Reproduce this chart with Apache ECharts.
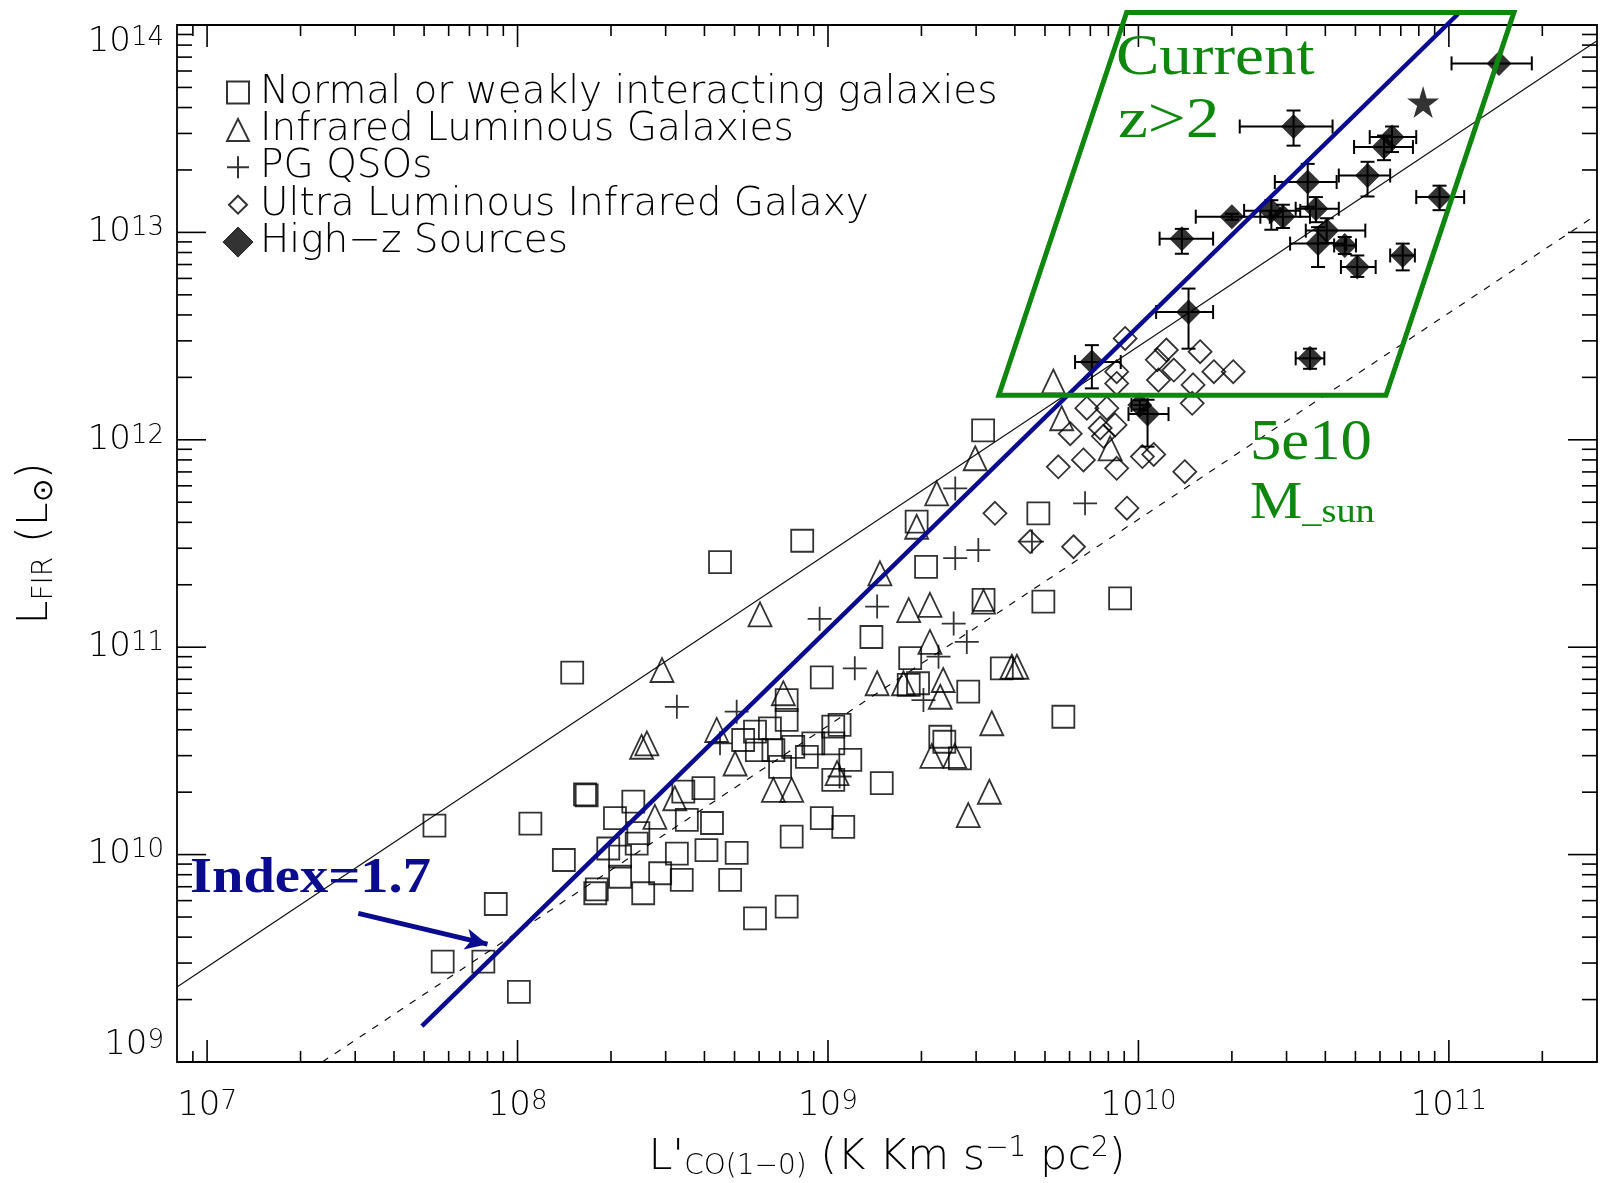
<!DOCTYPE html>
<html><head><meta charset="utf-8">
<script src="https://cdn.jsdelivr.net/npm/echarts@6/dist/echarts.min.js"></script>
<style>html,body{margin:0;padding:0;background:#fff}#chart{width:1606px;height:1183px}</style>
</head><body><div id="chart"></div>
<script>
// ---------------- data ----------------
const xTickLabels = [1e7, 1e8, 1e9, 1e10, 1e11];
const yTickLabels = [1e9, 1e10, 1e11, 1e12, 1e13, 1e14];
const legendNames = ['Normal or weakly interacting galaxies', 'Infrared Luminous Galaxies', 'PG QSOs', 'Ultra Luminous Infrared Galaxy', 'High\u2212z Sources'];

const normalX = [5.40e7,5.74e7,7.76e7,8.51e7,1.01e8,1.10e8,1.50e8,1.41e8,1.65e8,1.67e8,1.78e8,1.80e8,2.36e8,2.06e8,1.96e8,2.14e8,2.54e8,2.45e8,2.14e8,3.97e8,3.42e8,4.23e8,3.51e8,2.42e8,4.06e8,5.08e8,3.26e8,3.38e8,2.88e8,4.84e8,5.82e8,7.36e8,7.64e8,9.55e8,1.12e9,1.49e9,1.04e9,1.18e9,1.09e9,5.82e8,6.50e8,7.36e8,7.36e8,7.73e8,6.67e8,5.90e8,8.97e8,7.01e8,8.55e8,1.04e9,1.04e9,5.33e8,9.55e8,1.93e9,2.07e9,1.38e9,1.84e9,1.82e9,1.95e9,2.83e9,4.76e9,3.17e9,4.94e9,8.73e9,3.63e9,5.73e9,2.30e9,2.37e9,2.66e9,3.16e9,8.26e8,4.49e8];
const normalY = [1.38e10,3.05e9,3.05e9,5.78e9,2.18e9,1.41e10,7.54e10,9.42e9,1.95e10,1.93e10,6.51e9,6.8e9,1.80e10,1.50e10,1.07e10,7.82e9,6.51e9,1.27e10,9.77e9,2.09e10,2.01e10,1.42e10,1.47e10,1.13e10,1.05e10,1.02e10,1.01e10,7.55e9,8.13e9,7.55e9,4.93e9,5.61e9,1.22e10,1.50e10,1.36e10,2.21e10,2.29e10,2.86e10,4.22e10,3.92e10,4.06e10,4.46e10,5.56e10,3.31e10,3.19e10,3.19e10,3.44e10,2.65e10,2.96e10,4.14e10,3.44e10,3.57e10,7.16e10,4.03e11,2.44e11,1.12e11,8.85e10,6.58e10,6.70e10,6.10e10,4.42e11,1.69e11,1.66e11,1.72e11,7.91e10,4.62e10,3.70e10,3.50e10,2.91e10,1.11e12,3.26e11,2.57e11];

const ilgX = [2.92e8,2.51e8,2.61e8,4.38e8,5.02e8,2.77e8,3.21e8,7.18e8,6.67e8,7.64e8,1.44e9,1.07e9,2.98e9,2.24e9,1.93e9,1.47e9,1.82e9,2.13e9,3.17e9,2.13e9,1.75e9,2.35e9,3.91e9,4.06e9,3.37e9,2.30e9,5.32e9,5.66e9,8.11e9,6.04e8,2.16e9,2.56e9,2.83e9,3.31e9];
const ilgY = [7.76e10,3.31e10,3.44e10,3.99e10,2.75e10,1.52e10,1.87e10,6.0e10,2.05e10,2.05e10,6.70e10,2.47e10,8.15e11,5.52e11,3.81e11,2.27e11,1.51e11,1.60e11,1.66e11,1.06e11,6.70e10,6.95e10,8.05e10,8.05e10,4.30e10,5.77e10,1.91e12,1.27e12,9.10e11,1.44e11,2.99e10,2.99e10,1.55e10,2.01e10];

const qsoX = [3.26e8,5.08e8,4.49e8,1.22e9,1.09e9,2.57e9,2.57e9,3.05e9,1.44e9,2.54e9,2.80e9,2.27e9,6.73e9,2.03e9,4.54e9,9.4e8];
const qsoY = [5.16e10,4.89e10,3.44e10,7.91e10,2.38e10,5.83e11,2.69e11,2.94e11,1.57e11,1.30e11,1.06e11,9.0e10,4.94e11,5.56e10,3.23e11,1.37e11];

const ulirgX = [3.45e9,9.18e9,4.48e9,6.18e9,5.52e9,6.65e9,8.51e9,1.03e10,1.12e10,9.06e9,1.23e10,1.58e10,1.15e10,1.30e10,1.75e10,2.02e10,8.51e9,8.51e9,1.16e10,1.50e10,1.49e10,6.82e9,7.91e9,6.03e9,7.53e9,8.41e9,7.71e9,1.41e10];
const ulirgY = [4.42e11,4.68e11,3.23e11,3.05e11,7.41e11,8.0e11,7.29e11,8.3e11,8.5e11,3.08e12,2.71e12,2.66e12,2.43e12,2.17e12,2.13e12,2.13e12,2.13e12,1.87e12,1.94e12,1.84e12,1.50e12,1.42e12,1.42e12,1.07e12,1.14e12,1.18e12,1.04e12,7.02e11];

const hzX   = [1.45e11,3.16e10,6.56e10,6.18e10,5.47e10,9.33e10,3.51e10,2.0e10,2.68e10,2.92e10,3.73e10,4.04e10,3.79e10,4.62e10,1.38e10,7.10e10,5.07e10,1.45e10,7.08e9,3.57e10,1.07e10,1.01e10];
const hzY   = [6.53e13,3.24e13,2.88e13,2.58e13,1.88e13,1.48e13,1.75e13,1.19e13,1.27e13,1.19e13,1.30e13,1.02e13,8.83e12,8.65e12,9.33e12,7.74e12,6.81e12,4.13e12,2.37e12,2.47e12,1.33e12,1.47e12];
const hzXLo = [1.02e11,2.12e10,5.56e10,4.95e10,4.42e10,7.85e10,2.75e10,1.53e10,2.19e10,2.47e10,3.21e10,3.46e10,3.08e10,4.27e10,1.17e10,6.47e10,4.49e10,1.14e10,6.25e9,3.21e10,9.29e9,9.5e9];
const hzXHi = [1.85e11,4.22e10,7.85e10,7.66e10,6.47e10,1.12e11,4.35e10,2.65e10,3.32e10,3.57e10,4.42e10,5.38e10,4.67e10,5.02e10,1.74e10,7.77e10,5.81e10,1.74e10,8.77e9,3.97e10,1.25e10,1.07e10];
const hzYLo = [6.53e13,2.62e13,2.44e13,2.23e13,1.49e13,1.28e13,1.33e13,1.15e13,1.03e13,1.05e13,1.12e13,8.9e12,6.81e12,7.87e12,7.89e12,6.56e12,6.10e12,2.75e12,1.77e12,2.20e12,9.27e11,1.40e12];
const hzYHi = [6.53e13,3.87e13,3.24e13,2.93e13,2.19e13,1.68e13,2.14e13,1.23e13,1.43e13,1.36e13,1.48e13,1.17e13,1.06e13,9.5e12,1.04e13,8.83e12,7.74e12,5.36e12,2.86e12,2.75e12,1.56e12,1.55e12];

const starX = [8.26e10];
const starY = [4.25e13];

const fitSolidX = [8e6, 3e11];
const fitSolidY = [2.3e9, 8.4e13];
const fitDashX = [2.35e7, 3e11];
const fitDashY = [1e9, 1.22e13];
const indexLineX = [4.92e7, 1.07e11];
const indexLineY = [1.49e9, 1.13e14];
const arrowX = [3.07e7, 8.0e7];
const arrowY = [5.21e9, 3.70e9];
const boxX = [9.16e9, 1.62e11, 6.27e10, 3.55e9, 9.16e9, 1.62e11];
const boxY = [1.15e14, 1.15e14, 1.64e12, 1.64e12, 1.15e14, 1.15e14];

// ---------------- chart ----------------
const xMin = 8e6, xMax = 3e11, yMin = 1e9, yMax = 1e14;
const FONT = 'DejaVu Sans';
const FW = 200;
const TXT = '#000';
const BLUE = '#0b0b8f';
const GREEN = '#0f870f';
const pairs = (xs, ys) => xs.map((x, i) => [x, ys[i]]);

function tickList(lo, hi) {
  const out = [];
  for (let e = 6; e <= 14; e++) {
    for (let m = 1; m <= 9; m++) {
      const v = m * Math.pow(10, e);
      if (v > lo * 1.0001 && v < hi * 0.9999) out.push({ v: v, major: m === 1 });
    }
  }
  return out;
}
const xTicks = tickList(xMin, xMax);
const yTicks = tickList(yMin, yMax);

function tickSeries(side) {
  const horiz = side === 'bottom' || side === 'top';
  const vals = horiz ? xTicks : yTicks;
  return {
    type: 'custom', coordinateSystem: 'cartesian2d', silent: true, z: 6, clip: false,
    data: vals.map(t => side === 'bottom' ? [t.v, yMin] : side === 'top' ? [t.v, yMax] : side === 'left' ? [xMin, t.v] : [xMax, t.v]),
    renderItem: (params, api) => {
      const t = vals[params.dataIndex];
      const p = api.coord([api.value(0), api.value(1)]);
      const len = horiz ? (t.major ? 22 : 11) : (t.major ? 29 : 15);
      let x2 = p[0], y2 = p[1];
      if (side === 'bottom') y2 -= len; else if (side === 'top') y2 += len;
      else if (side === 'left') x2 += len; else x2 -= len;
      return { type: 'line', shape: { x1: p[0], y1: p[1], x2: x2, y2: y2 }, style: { stroke: '#000', lineWidth: 1.6 } };
    }
  };
}

function expLabel(v) {
  const l = Math.log10(v);
  const e = Math.round(l);
  if (Math.abs(l - e) > 1e-6) return '';
  return '{b|10}{s|' + e + '}';
}
function yLabel(v) {
  const s = expLabel(v);
  if (s && Math.abs(v - yMin) / yMin < 1e-6) return s + '\n{g|}';
  return s;
}
const labelRich = {
  b: { fontFamily: FONT, fontWeight: FW, fontSize: 34, color: TXT, lineHeight: 34 },
  s: { fontFamily: FONT, fontWeight: FW, fontSize: 26, color: TXT, lineHeight: 14, verticalAlign: 'top' },
  g: { fontSize: 10, lineHeight: 34 }
};
const nameRich = {
  b: { fontFamily: FONT, fontWeight: FW, fontSize: 43, color: TXT, lineHeight: 46 },
  sub: { fontFamily: FONT, fontWeight: FW, fontSize: 28, color: TXT, lineHeight: 22, verticalAlign: 'bottom' },
  sup: { fontFamily: FONT, fontWeight: FW, fontSize: 28, color: TXT, lineHeight: 28, verticalAlign: 'top' }
};

const openStyle = { color: 'transparent', borderColor: '#000', borderWidth: 1.8 };
const plusPath = 'path://M0,10L20,10M10,0L10,20';
const starPath = 'path://M50,0L61,35L98,35L68,57L79,91L50,70L21,91L32,57L2,35L39,35Z';

const option = {
  animation: false,
  backgroundColor: '#fff',
  grid: { left: 177, right: 9, top: 25, bottom: 121, containLabel: false, outerBoundsMode: 'none',
          show: true, borderColor: '#000', borderWidth: 1.8, backgroundColor: 'transparent' },
  xAxis: {
    type: 'log', logBase: 10, min: xMin, max: xMax,
    axisLine: { show: false }, axisTick: { show: false }, splitLine: { show: false }, minorTick: { show: false },
    axisLabel: { margin: 27, formatter: expLabel, rich: labelRich, showMinLabel: false, showMaxLabel: false },
    name: "{b|L'}{sub|CO(1\u22120)}{b| (K Km s}{sup|\u22121}{b| pc}{sup|2}{b|)}",
    nameLocation: 'middle', nameGap: 73,
    nameTextStyle: { rich: nameRich }
  },
  yAxis: {
    type: 'log', logBase: 10, min: yMin, max: yMax,
    axisLine: { show: false }, axisTick: { show: false }, splitLine: { show: false }, minorTick: { show: false },
    axisLabel: { margin: 13, formatter: yLabel, rich: labelRich, verticalAlignMaxLabel: 'top' },
    name: '{b|L}{sub|FIR}{b| (L}{sub|\u2299}{b|)}',
    nameLocation: 'middle', nameGap: 118, nameRotate: 90,
    nameTextStyle: { rich: nameRich }
  },
  legend: {
    orient: 'vertical', left: 217, top: 68, itemWidth: 34, itemHeight: 30, itemGap: -1.6,
    selectedMode: false, symbolKeepAspect: true,
    textStyle: { fontFamily: FONT, fontWeight: FW, fontSize: 39, color: TXT, lineHeight: 30 },
    data: [
      { name: legendNames[0], icon: 'path://M0,0M30,30M4,4L26,4L26,26L4,26Z', itemStyle: { color: 'transparent', borderColor: '#000', borderWidth: 2 } },
      { name: legendNames[1], icon: 'path://M0,0M30,30M15,4L26,26L4,26Z', itemStyle: { color: 'transparent', borderColor: '#000', borderWidth: 2 } },
      { name: legendNames[2], icon: 'path://M0,0M30,30M4,15L26,15M15,4L15,26', itemStyle: { color: 'transparent', borderColor: '#000', borderWidth: 2 } },
      { name: legendNames[3], icon: 'path://M0,0M30,30M15,6L24,15L15,24L6,15Z', itemStyle: { color: 'transparent', borderColor: '#000', borderWidth: 2 } },
      { name: legendNames[4], icon: 'path://M0,0M30,30M15,0L30,15L15,30L0,15Z', itemStyle: { color: '#000', borderColor: '#000', borderWidth: 1 } }
    ]
  },
  series: [
    { name: 'fit-solid', type: 'line', data: pairs(fitSolidX, fitSolidY), symbol: 'none', silent: true, z: 1,
      lineStyle: { color: '#111', width: 1.2 } },
    { name: 'fit-dash', type: 'line', data: pairs(fitDashX, fitDashY), symbol: 'none', silent: true, z: 1,
      lineStyle: { color: '#111', width: 1.2, type: [7, 8] } },
    { name: legendNames[0], type: 'scatter', data: pairs(normalX, normalY), symbol: 'rect', symbolSize: 22, itemStyle: openStyle, z: 3 },
    { name: legendNames[1], type: 'scatter', data: pairs(ilgX, ilgY), symbol: 'triangle', symbolSize: [23, 24], itemStyle: openStyle, z: 3 },
    { name: legendNames[2], type: 'scatter', data: pairs(qsoX, qsoY), symbol: plusPath, symbolSize: 24, itemStyle: openStyle, z: 3 },
    { name: legendNames[3], type: 'scatter', data: pairs(ulirgX, ulirgY), symbol: 'diamond', symbolSize: 23, itemStyle: openStyle, z: 3 },
    { name: 'hz-errors', type: 'custom', silent: true, z: 4,
      data: hzX.map((x, i) => [x, hzY[i], hzXLo[i], hzXHi[i], hzYLo[i], hzYHi[i]]),
      encode: { x: 0, y: 1 },
      renderItem: (params, api) => {
        const x = api.value(0), y = api.value(1);
        const xl = api.value(2), xh = api.value(3), yl = api.value(4), yh = api.value(5);
        const st = { stroke: '#000', lineWidth: 2 };
        const cap = 7;
        const ch = [];
        if (xl !== xh) {
          const a = api.coord([xl, y]), b = api.coord([xh, y]);
          ch.push({ type: 'line', shape: { x1: a[0], y1: a[1], x2: b[0], y2: b[1] }, style: st });
          ch.push({ type: 'line', shape: { x1: a[0], y1: a[1] - cap, x2: a[0], y2: a[1] + cap }, style: st });
          ch.push({ type: 'line', shape: { x1: b[0], y1: b[1] - cap, x2: b[0], y2: b[1] + cap }, style: st });
        }
        if (yl !== yh) {
          const a = api.coord([x, yl]), b = api.coord([x, yh]);
          ch.push({ type: 'line', shape: { x1: a[0], y1: a[1], x2: b[0], y2: b[1] }, style: st });
          ch.push({ type: 'line', shape: { x1: a[0] - cap, y1: a[1], x2: a[0] + cap, y2: a[1] }, style: st });
          ch.push({ type: 'line', shape: { x1: b[0] - cap, y1: b[1], x2: b[0] + cap, y2: b[1] }, style: st });
        }
        return { type: 'group', children: ch };
      }
    },
    { name: legendNames[4], type: 'scatter', data: pairs(hzX, hzY), symbol: 'diamond', symbolSize: 25, itemStyle: { color: '#000' }, z: 5 },
    { name: 'star', type: 'scatter', data: pairs(starX, starY), symbol: starPath, symbolSize: 32, itemStyle: { color: '#000' }, z: 5 },
    { name: 'index-line', type: 'line', data: pairs(indexLineX, indexLineY), symbol: 'none', silent: true, clip: false, z: 10,
      lineStyle: { color: BLUE, width: 4.5 },
      markLine: {
        silent: true, symbol: ['none', 'arrow'], symbolSize: [16, 22], animation: false,
        label: { show: false },
        lineStyle: { color: BLUE, width: 5, type: 'solid' },
        data: [[{ coord: [arrowX[0], arrowY[0]] }, { coord: [arrowX[1], arrowY[1]] }]]
      }
    },
    { name: 'box', type: 'line', data: pairs(boxX, boxY), symbol: 'none', silent: true, clip: false, z: 10,
      lineStyle: { color: GREEN, width: 5, join: 'miter' } },
    tickSeries('bottom'), tickSeries('top'), tickSeries('left'), tickSeries('right')
  ],
  graphic: [
    { type: 'text', x: 190, y: 879, scaleX: 1.13, z: 100, style: { text: 'Index=1.7', font: 'bold 50px "Liberation Serif"', fill: BLUE, verticalAlign: 'middle' } },
    { type: 'text', x: 1116, y: 59, scaleX: 1.16, z: 100, style: { text: 'Current', font: '56px "Liberation Serif"', fill: GREEN, verticalAlign: 'middle' } },
    { type: 'text', x: 1118, y: 122, scaleX: 1.2, z: 100, style: { text: 'z>2', font: '56px "Liberation Serif"', fill: GREEN, verticalAlign: 'middle' } },
    { type: 'text', x: 1250, y: 444, scaleX: 1.12, z: 100, style: { text: '5e10', font: '56px "Liberation Serif"', fill: GREEN, verticalAlign: 'middle' } },
    { type: 'text', x: 1250, y: 504, scaleX: 1.13, z: 100, style: {
        text: '{a|M}{b|_sun}', verticalAlign: 'middle', fill: GREEN,
        rich: { a: { fontFamily: 'Liberation Serif', fontSize: 52, lineHeight: 52, verticalAlign: 'bottom', fill: GREEN },
                b: { fontFamily: 'Liberation Serif', fontSize: 34, lineHeight: 34, verticalAlign: 'bottom', fill: GREEN } } } }
  ]
};

const chart = echarts.init(document.getElementById('chart'));
chart.setOption(option);
</script>
</body></html>
